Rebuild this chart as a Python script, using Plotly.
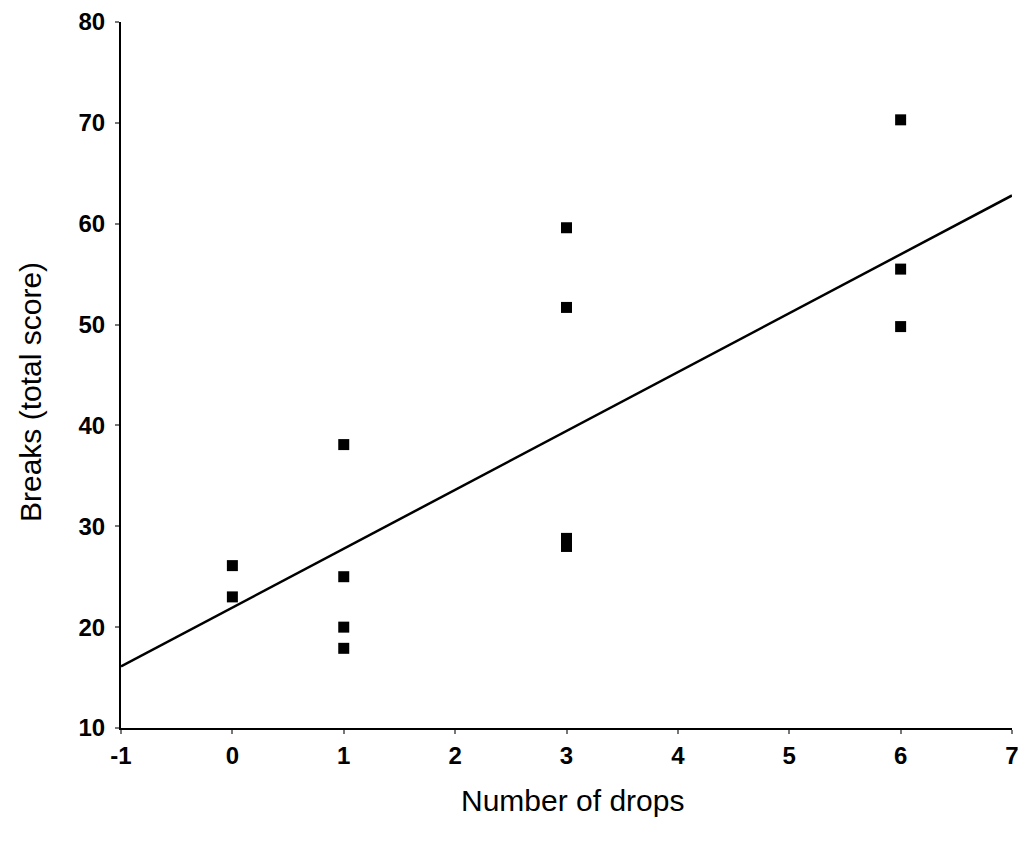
import plotly.graph_objects as go

# Data
drops = [0, 0, 1, 1, 1, 1, 3, 3, 3, 3, 6, 6, 6]
breaks = [26.1, 23.0, 38.1, 25.0, 20.0, 17.9, 59.6, 51.7, 28.8, 28.0, 70.3, 55.5, 49.8]
fit_x = [-1, 7]
fit_y = [16.1, 62.8]
x_ticks = [-1, 0, 1, 2, 3, 4, 5, 6, 7]
y_ticks = [10, 20, 30, 40, 50, 60, 70, 80]

fig = go.Figure()
fig.add_trace(go.Scatter(x=fit_x, y=fit_y, mode="lines",
                         line=dict(color="black", width=2.5),
                         showlegend=False, hoverinfo="skip", cliponaxis=False))
fig.add_trace(go.Scatter(x=drops, y=breaks, mode="markers",
                         marker=dict(symbol="square", size=11, color="black"),
                         showlegend=False))

font = "Liberation Sans, Arial, sans-serif"
W, H = 1021, 851
L, R, T, B = 121, 9, 22, 123
pw = W - L - R
ph = H - T - B

fig.update_layout(
    width=W, height=H,
    margin=dict(l=L, r=R, t=T, b=B),
    plot_bgcolor="white", paper_bgcolor="white",
    font=dict(family=font, color="black", size=24),
    xaxis=dict(range=[-1, 7], tickmode="array", tickvals=x_ticks,
               ticktext=["<b>%d</b>" % v for v in x_ticks],
               showgrid=False, zeroline=False, showline=True, linecolor="black",
               linewidth=2, ticks="outside", ticklen=4, tickwidth=2, tickcolor="#777",
               ticklabelstandoff=1, automargin=False, ticklabeloverflow="allow",
               tickfont=dict(size=24, family=font, color="black")),
    yaxis=dict(range=[10, 80], tickmode="array", tickvals=y_ticks,
               ticktext=["<b>%d</b>" % v for v in y_ticks],
               showgrid=False, zeroline=False, showline=True, linecolor="black",
               linewidth=2, ticks="outside", ticklen=4, tickwidth=2, tickcolor="#777",
               ticklabelstandoff=5, automargin=False,
               tickfont=dict(size=24, family=font, color="black")),
    annotations=[
        dict(text="Number of drops", xref="paper", yref="paper",
             x=(572 - L) / pw, y=(H - B - 800) / ph,
             xanchor="center", yanchor="middle",
             showarrow=False, font=dict(size=30, family=font)),
        dict(text="Breaks (total score)", xref="paper", yref="paper",
             x=(30 - L) / pw, y=(H - B - 392) / ph,
             xanchor="center", yanchor="middle",
             showarrow=False, font=dict(size=30, family=font), textangle=-90),
    ],
)

fig.write_html("out.html", config={"displayModeBar": False},
               post_script="document.body.style.margin='0';document.body.style.overflow='hidden';")
